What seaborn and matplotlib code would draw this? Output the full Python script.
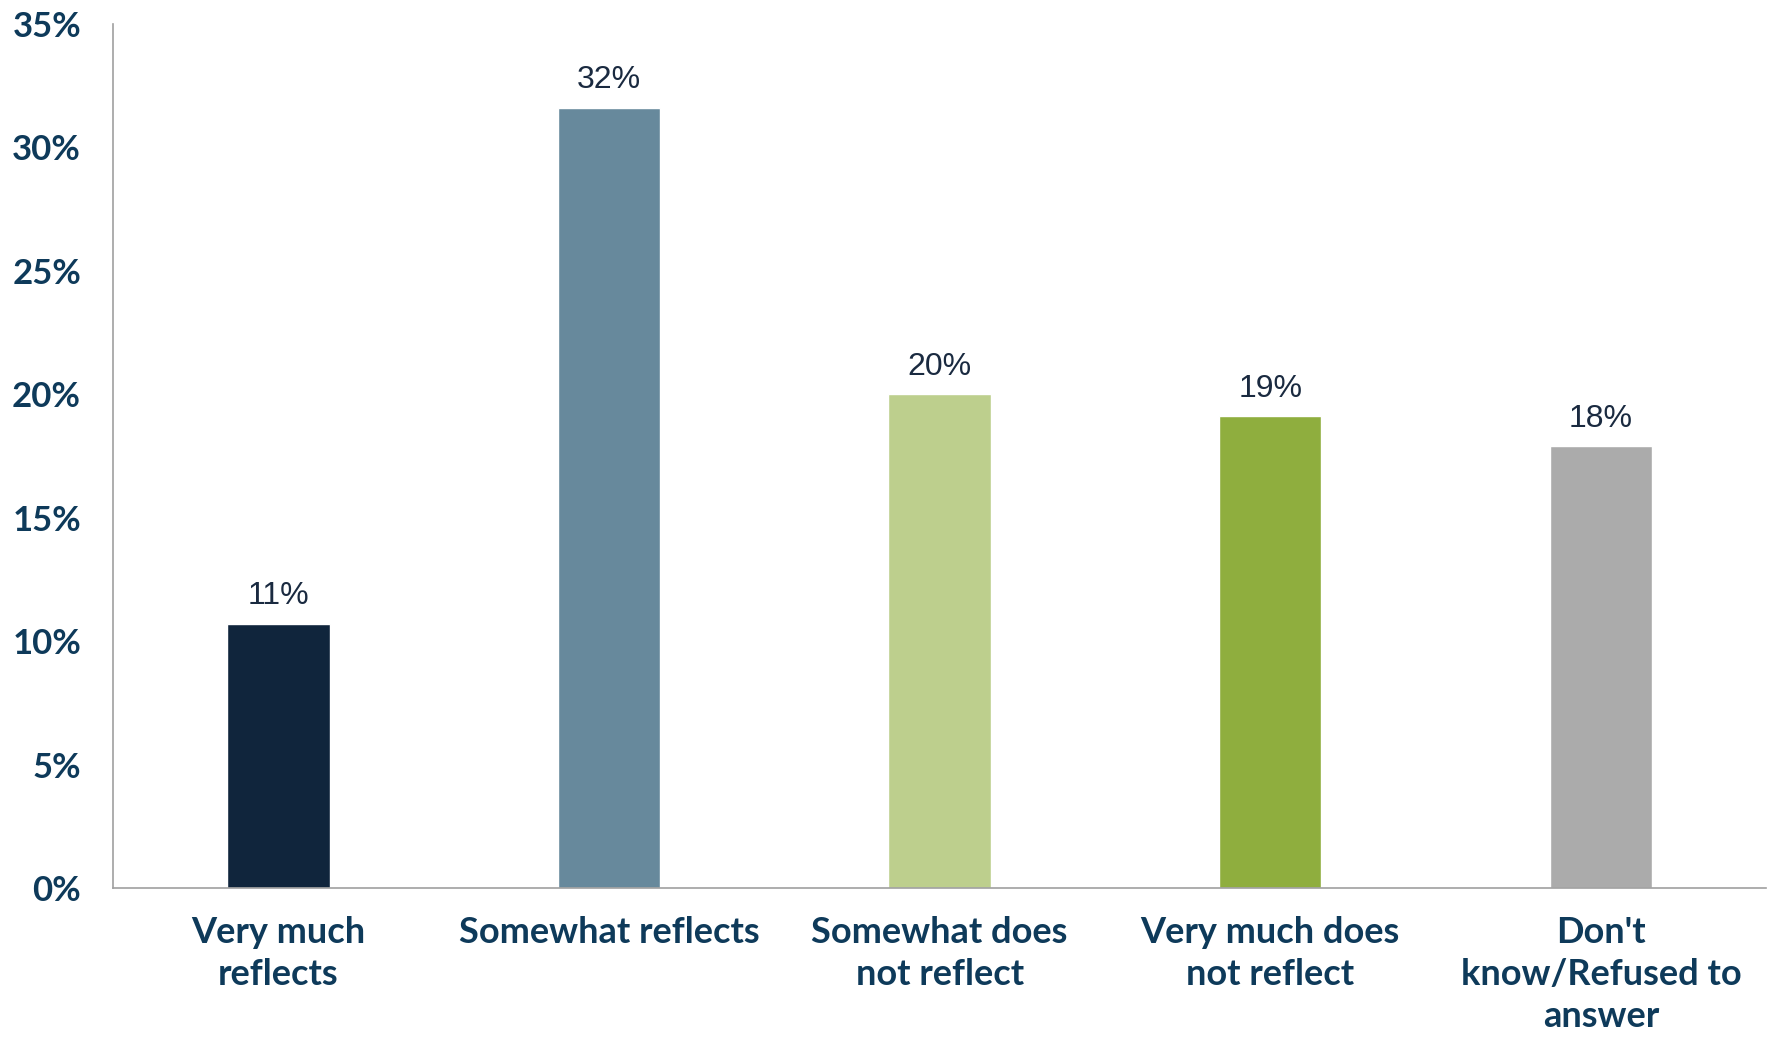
import seaborn as sns
import matplotlib
matplotlib.use('Agg')
import pandas as pd
import numpy as np
import matplotlib.pyplot as plt
from matplotlib.ticker import FixedLocator

categories=['Very much\nreflects','Somewhat reflects','Somewhat does\nnot reflect','Very much does\nnot reflect',"Don't\nknow/Refused to\nanswer"]
values=[10.7,31.6,20.0,19.1,17.9]
value_labels=['11%','32%','20%','19%','18%']
bar_colors=['#10253C','#67899C','#BDCF8D','#8FAE3E','#ABABAB']
yticks=[0,5,10,15,20,25,30,35]

sns.set_style('white')
plt.rcParams['font.family']=['Lato','DejaVu Sans']
txt='#0E3A5A'

df=pd.DataFrame({'cat':categories,'val':values})
fig=plt.figure(figsize=(17.75,10.38),dpi=100)
ax=fig.add_axes([0.0637,0.1445,0.9313,0.8325])
sns.barplot(data=df,x='cat',y='val',hue='cat',palette=bar_colors,legend=False,width=0.31,saturation=1,ax=ax)

for i,(v,l) in enumerate(zip(values,value_labels)):
    ax.annotate(l,(i,v),xytext=(0,9),textcoords='offset points',ha='center',va='bottom',
                fontsize=23,color='#1A2A40',family='Liberation Sans')

ax.set_ylim(0,35)
ax.set_xlim(-0.5,4.5)
ax.set_yticks(yticks)
ax.set_yticklabels([f'{t}%' for t in yticks])
ax.xaxis.set_minor_locator(FixedLocator(np.arange(-0.5,5,1)))
ax.tick_params(axis='x',which='major',length=0,pad=20,labelsize=26,labelcolor=txt)
ax.tick_params(axis='x',which='minor',length=9,width=1.2,color='#A0A0A0',direction='out')
ax.tick_params(axis='y',length=8,width=1.2,color='#A0A0A0',direction='out',pad=15,labelsize=25,labelcolor=txt)
for lab in ax.get_xticklabels()+ax.get_yticklabels():
    lab.set_fontweight('bold')
for lab in ax.get_xticklabels():
    lab.set_linespacing(1.34)
    lab.set_va('top')

sns.despine(ax=ax)
for s in ['left','bottom']:
    ax.spines[s].set_color('#A0A0A0')
    ax.spines[s].set_linewidth(1.2)
ax.set_xlabel('')
ax.set_ylabel('')

plt.savefig('out.png',dpi=100)
plt.close()
